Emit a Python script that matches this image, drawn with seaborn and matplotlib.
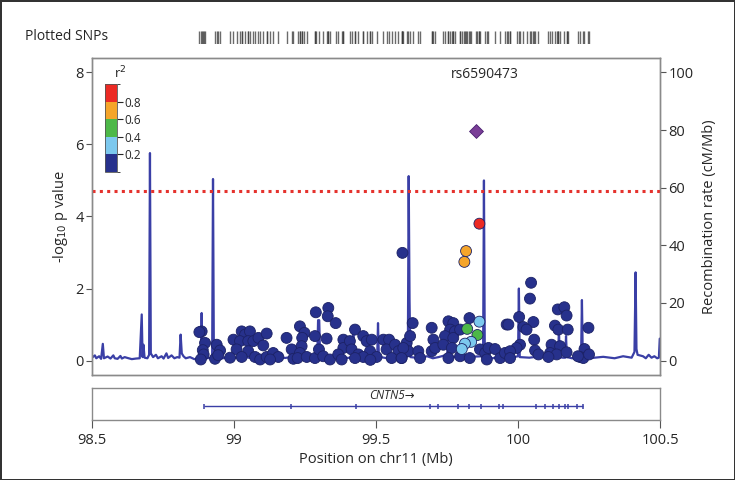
import numpy as np
import pandas as pd
import matplotlib.pyplot as plt
import seaborn as sns
from matplotlib.colors import ListedColormap, BoundaryNorm
from matplotlib.cm import ScalarMappable

sns.set_style("white")
plt.rcParams['font.family'] = ['Open Sans', 'DejaVu Sans']
plt.rcParams['font.size'] = 10

# SNP positions (Mb), -log10 p and r2 with the lead SNP
snp_pos = [98.886, 98.878, 98.898, 98.890, 98.893, 98.883, 98.939, 98.951, 98.933, 98.944,
           98.998, 99.027, 99.039, 99.056, 99.021, 99.009, 99.050, 99.068, 99.086, 99.115,
           99.103, 99.050, 98.986, 99.027, 99.074, 99.092, 99.115, 99.138, 99.156, 99.127,
           99.185, 99.203, 99.209, 99.232, 99.248, 99.240, 99.238, 99.232, 99.224, 99.256,
           99.285, 99.288, 99.332, 99.330, 99.358, 99.285, 99.326, 99.299, 99.314, 99.338,
           99.385, 99.385, 99.408, 99.367, 99.426, 99.414, 99.438, 99.455, 99.467, 99.485,
           99.479, 99.455, 99.502, 99.526, 99.546, 99.537, 99.567, 99.579, 99.555, 99.590,
           99.379, 99.426, 99.480, 99.629, 99.608, 99.614, 99.596, 99.620, 99.590, 99.649,
           99.655, 99.696, 99.702, 99.696, 99.708, 99.755, 99.772, 99.761, 99.778, 99.743,
           99.772, 99.737, 99.767, 99.755, 99.796, 99.829, 99.796, 99.830, 99.866, 99.884,
           99.896, 99.919, 99.890, 99.937, 99.960, 99.954, 100.046, 100.042, 100.004, 99.966,
           100.054, 100.019, 100.030, 100.057, 100.007, 99.995, 99.972, 99.972, 100.060, 100.072,
           100.140, 100.163, 100.171, 100.130, 100.142, 100.175, 100.118, 100.148, 100.113, 100.136,
           100.171, 100.107, 100.248, 100.234, 100.218, 100.230, 100.250, 100.211, 99.593,
           99.821, 99.857, 99.864, 99.835, 99.813, 99.802, 99.817, 99.811, 99.864]
snp_logp = [0.81, 0.79, 0.49, 0.29, 0.17, 0.03, 0.44, 0.28, 0.05, 0.15,
            0.58, 0.81, 0.72, 0.81, 0.54, 0.31, 0.54, 0.54, 0.63, 0.75,
            0.42, 0.26, 0.08, 0.10, 0.10, 0.03, 0.10, 0.21, 0.10, 0.03,
            0.63, 0.31, 0.05, 0.95, 0.77, 0.63, 0.40, 0.21, 0.07, 0.10,
            0.07, 1.34, 1.46, 1.23, 1.04, 0.68, 0.61, 0.31, 0.12, 0.03,
            0.58, 0.35, 0.54, 0.17, 0.86, 0.31, 0.17, 0.68, 0.54, 0.58,
            0.26, 0.10, 0.10, 0.58, 0.58, 0.31, 0.44, 0.26, 0.07, 0.07,
            0.03, 0.07, 0.02, 1.04, 0.49, 0.26, 0.35, 0.68, 0.07, 0.26,
            0.07, 0.91, 0.58, 0.26, 0.35, 1.09, 1.04, 0.86, 0.81, 0.68,
            0.63, 0.44, 0.35, 0.07, 0.86, 1.18, 0.12, 0.07, 0.31, 0.21,
            0.35, 0.32, 0.03, 0.07, 1.00, 0.21, 2.16, 1.72, 1.21, 1.00,
            1.07, 0.93, 0.86, 0.58, 0.44, 0.35, 0.26, 0.07, 0.28, 0.17,
            1.42, 1.48, 1.25, 0.97, 0.86, 0.86, 0.44, 0.40, 0.21, 0.17,
            0.23, 0.10, 0.91, 0.32, 0.10, 0.07, 0.17, 0.12, 2.99,
            0.88, 0.71, 1.08, 0.52, 0.47, 0.32, 3.04, 2.74, 3.80]
snp_r2 = [0.1] * 139 + [0.5, 0.5, 0.3, 0.3, 0.3, 0.3, 0.7, 0.7, 0.9]

lead_name = "rs6590473"
lead_pos = 99.851
lead_logp = 6.37
threshold = 4.7

# recombination rate (cM/Mb)
rec_pos = [98.500, 98.510, 98.515, 98.525, 98.532, 98.538, 98.542, 98.555, 98.565, 98.575,
           98.580, 98.590, 98.600, 98.605, 98.615, 98.625, 98.640, 98.655, 98.668, 98.675,
           98.678, 98.681, 98.685, 98.695, 98.701, 98.704, 98.707, 98.715, 98.725, 98.732,
           98.745, 98.752, 98.762, 98.768, 98.780, 98.790, 98.800, 98.808, 98.812, 98.816,
           98.822, 98.830, 98.845, 98.860, 98.875, 98.883, 98.886, 98.889, 98.900, 98.915,
           98.923, 98.926, 98.929, 98.940, 98.960, 98.980, 99.000, 99.030, 99.060, 99.090,
           99.120, 99.150, 99.180, 99.210, 99.240, 99.270, 99.293, 99.296, 99.300, 99.303,
           99.330, 99.360, 99.390, 99.417, 99.420, 99.423, 99.450, 99.480, 99.504, 99.507,
           99.510, 99.540, 99.570, 99.600, 99.612, 99.615, 99.618, 99.621, 99.650, 99.680,
           99.700, 99.720, 99.750, 99.755, 99.760, 99.790, 99.820, 99.850, 99.877, 99.880,
           99.883, 99.910, 99.940, 99.970, 100.000, 100.003, 100.006, 100.040, 100.080, 100.110,
           100.141, 100.144, 100.147, 100.158, 100.166, 100.169, 100.172, 100.190, 100.222, 100.225,
           100.228, 100.260, 100.300, 100.340, 100.370, 100.400, 100.410, 100.414, 100.417, 100.421,
           100.440, 100.450, 100.460, 100.470, 100.480, 100.490, 100.496, 100.499, 100.500]
rec_rate = [1.0, 1.8, 0.8, 1.5, 0.6, 5.8, 0.8, 1.4, 0.7, 1.8,
            0.8, 0.6, 1.6, 0.7, 1.2, 0.9, 0.5, 0.7, 0.8, 16.0,
            1.2, 5.5, 1.0, 0.8, 2.0, 72.0, 2.5, 1.2, 2.0, 0.8,
            1.5, 0.7, 2.5, 0.9, 1.8, 0.8, 1.2, 1.0, 9.0, 2.5,
            1.5, 0.8, 1.2, 0.5, 0.6, 1.0, 16.5, 1.2, 0.8, 0.9,
            1.5, 63.0, 2.0, 1.0, 0.8, 1.2, 0.9, 1.5, 0.8, 1.3,
            0.7, 1.5, 0.9, 1.4, 0.8, 1.2, 1.0, 14.0, 14.0, 1.2,
            0.8, 1.3, 0.9, 1.0, 10.8, 1.2, 1.4, 0.8, 1.0, 13.0,
            1.3, 0.8, 1.5, 1.0, 1.5, 64.0, 21.0, 1.2, 0.9, 1.5,
            0.8, 1.2, 2.0, 7.0, 1.0, 1.3, 0.9, 1.4, 1.5, 62.5,
            1.5, 0.8, 1.4, 0.9, 1.5, 25.0, 1.2, 1.0, 1.5, 0.8,
            1.0, 10.8, 1.2, 1.0, 1.0, 8.5, 1.2, 0.8, 1.0, 21.0,
            1.2, 0.9, 1.3, 0.8, 1.5, 1.0, 3.0, 30.6, 4.0, 2.0,
            1.5, 0.8, 2.0, 1.0, 1.5, 0.8, 1.0, 7.6, 7.6]

# gene CNTN5 and its exons
gene_name = "CNTN5"
gene_start, gene_end = 98.894, 100.229
exon_pos = [98.894, 99.202, 99.428, 99.690, 99.717, 99.787, 99.827, 99.870, 99.932, 99.947,
            100.062, 100.096, 100.122, 100.143, 100.166, 100.177, 100.208, 100.229]

r2_bins = [0, 0.2, 0.4, 0.6, 0.8, 1.0]
r2_colors = ['#27318c', '#7cc8ee', '#4db848', '#f5a52a', '#ec2a24']

df = pd.DataFrame({'pos': snp_pos, 'logp': snp_logp, 'r2': snp_r2})
df['r2 class'] = pd.cut(df['r2'], r2_bins, labels=False)
rec = pd.DataFrame({'pos': rec_pos, 'rate': rec_rate})

fig = plt.figure(figsize=(7.35, 4.8), dpi=100, edgecolor='#333333', linewidth=2)
ax = fig.add_axes([0.1252, 0.2188, 0.7728, 0.6604])
ax2 = ax.twinx()
ax.set_zorder(ax2.get_zorder() + 1)
ax.patch.set_visible(False)

ymin, ymax = -0.4, 8.4
scale = 12.5
sns.lineplot(data=rec, x='pos', y='rate', ax=ax2, color='#3a3fa6', lw=1.6, estimator=None, sort=False)
ax2.set_ylim(ymin * scale, ymax * scale)
ax2.set_yticks([0, 20, 40, 60, 80, 100])
ax2.set_ylabel('Recombination rate (cM/Mb)', fontsize=10.5, labelpad=6)

ax.axhline(threshold, color='#e5322d', lw=2.2, ls=(0, (1, 1.4)), zorder=1)
sns.scatterplot(data=df, x='pos', y='logp', hue='r2 class', palette=dict(enumerate(r2_colors)),
                s=62, edgecolor='#1c2266', linewidth=0.6, legend=False, ax=ax, zorder=3)
ax.scatter([lead_pos], [lead_logp], marker='D', s=50, color='#7a3e97', edgecolor='#4a2070', lw=0.6, zorder=4)
ax.text(lead_pos + 0.033, 7.95, lead_name, ha='center', va='center', fontsize=10)

ax.set_xlim(98.5, 100.5)
ax.set_ylim(ymin, ymax)
ax.set_yticks([0, 2, 4, 6, 8])
ax.set_xticks([])
ax.set_xlabel('')
ax.set_ylabel(r'-log$_{10}$ p value', fontsize=10.5, labelpad=4)
for a in (ax, ax2):
    for s in a.spines.values():
        s.set_color('#8a8a8a')
        s.set_linewidth(1)
    a.tick_params(axis='y', length=4, width=0.8, color='#555555', labelsize=10.5, pad=2)

# r2 colour key
cax = fig.add_axes([0.1429, 0.6417, 0.0163, 0.1833])
cmap = ListedColormap(r2_colors)
norm = BoundaryNorm(r2_bins, cmap.N)
cb = fig.colorbar(ScalarMappable(norm=norm, cmap=cmap), cax=cax, ticks=[0.2, 0.4, 0.6, 0.8])
cb.outline.set_edgecolor('#555555')
cb.outline.set_linewidth(0.6)
cax.tick_params(labelsize=8.5, length=4, width=0.8, pad=1)
cax.set_yticklabels(['0.2', '0.4', '0.6', '0.8'])
fig.text(0.163, 0.848, r'r$^2$', fontsize=9.5, ha='center', va='center')

# plotted SNPs rug
rax = fig.add_axes([0.1252, 0.908, 0.7728, 0.027])
sns.rugplot(x=snp_pos + [lead_pos], ax=rax, height=1, color='#3a3a3a', lw=0.8, alpha=0.75)
rax.set_xlim(98.5, 100.5)
rax.set_ylim(0, 1)
rax.axis('off')
fig.text(0.034, 0.923, 'Plotted SNPs', fontsize=10, ha='left', va='center')

# gene track
gax = fig.add_axes([0.1252, 0.125, 0.7728, 0.067])
gax.set_xlim(98.5, 100.5)
gax.set_ylim(0, 1)
gax.hlines(0.42, gene_start, gene_end, color='#3a3fa6', lw=1)
gax.vlines(exon_pos, 0.34, 0.50, color='#3a3fa6', lw=1.1)
gax.text(99.555, 0.76, gene_name + '\u2192', style='italic', fontsize=8.5, ha='center', va='center')
gax.set_yticks([])
gax.set_xticks([98.5, 99, 99.5, 100, 100.5])
gax.set_xticklabels(['98.5', '99', '99.5', '100', '100.5'])
gax.tick_params(axis='x', length=6, width=0.8, color='#555555', labelsize=10.5, pad=3, bottom=True)
for s in gax.spines.values():
    s.set_color('#8a8a8a')
    s.set_linewidth(1)
gax.set_xlabel('Position on chr11 (Mb)', fontsize=10.5, labelpad=3)

fig.savefig('out.png', dpi=100, edgecolor=fig.get_edgecolor())
